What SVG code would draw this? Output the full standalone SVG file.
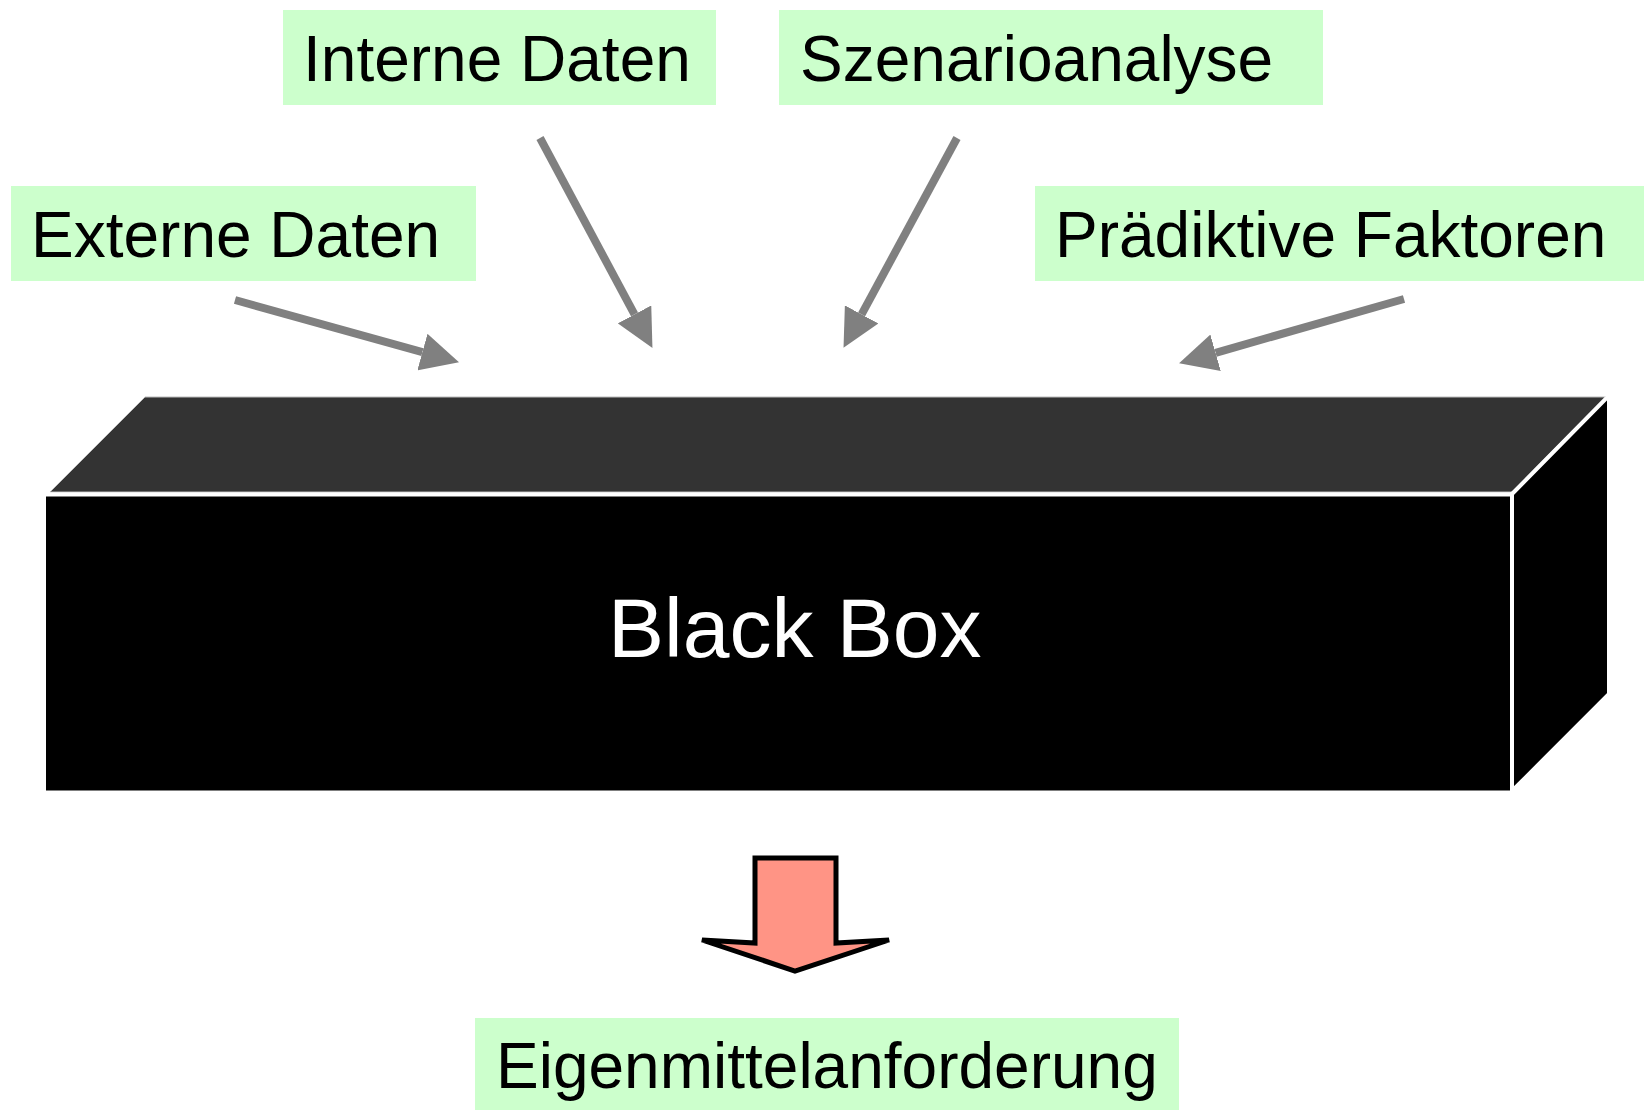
<svg xmlns="http://www.w3.org/2000/svg" width="1648" height="1110" viewBox="0 0 1648 1110">
  <style>
    .lbl { fill: #CCFFCC; stroke: none; }
    .txt { font-family: "Liberation Sans", Arial, sans-serif; font-size: 64px; fill: #000000; }
    .big { font-family: "Liberation Sans", Arial, sans-serif; font-size: 84px; fill: #FFFFFF; }
    .conn { stroke: #808080; stroke-width: 8; fill: none; marker-end: url(#head); }
  </style>
  <defs>
    <marker id="head" markerUnits="userSpaceOnUse" markerWidth="38" markerHeight="38" refX="0" refY="19" orient="auto" viewBox="0 0 38 38">
      <path d="M0,0 L38,19 L0,38 Z" fill="#808080"/>
    </marker>
  </defs>
  <rect width="1648" height="1110" fill="#FFFFFF"/>

  <g id="black-box">
    <polygon points="145,397 1606,397 1512,492 50,492" fill="#333333" stroke="#BBBBBB" stroke-width="1"/>
    <polygon points="1512,494 1606,398.5 1609,398.5 1609,694 1512,791" fill="#000000" stroke="#FFFFFF" stroke-width="4" stroke-linejoin="miter"/>
    <rect x="44" y="494.5" width="1468" height="298" fill="#000000" stroke="#FFFFFF" stroke-width="4"/>
    <text class="big" x="608" y="657">Black Box</text>
  </g>

  <g id="interne-daten">
    <rect class="lbl" x="283" y="10" width="433" height="95"/>
    <text class="txt" x="303" y="81">Interne Daten</text>
  </g>
  <g id="szenarioanalyse">
    <rect class="lbl" x="779" y="10" width="544" height="95"/>
    <text class="txt" x="800" y="81">Szenarioanalyse</text>
  </g>
  <g id="externe-daten">
    <rect class="lbl" x="11" y="186" width="465" height="95"/>
    <text class="txt" x="31" y="257">Externe Daten</text>
  </g>
  <g id="praediktive-faktoren">
    <rect class="lbl" x="1035" y="186" width="609" height="95"/>
    <text class="txt" x="1055" y="257">Prädiktive Faktoren</text>
  </g>
  <g id="eigenmittelanforderung">
    <rect class="lbl" x="475" y="1018" width="704" height="92"/>
    <text class="txt" x="496" y="1088">Eigenmittelanforderung</text>
  </g>

  <g id="connectors">
    <line class="conn" x1="235" y1="300" x2="422.4" y2="352.1"/>
    <line class="conn" x1="540" y1="138" x2="634.5" y2="314.4"/>
    <line class="conn" x1="957" y1="138" x2="861.6" y2="314.4"/>
    <line class="conn" x1="1404" y1="299" x2="1215.6" y2="352.8"/>
    <polygon id="output-arrow" points="755,858 836,858 836,943 889,940 795,971 702,940 755,943" fill="#FF9485" stroke="#000000" stroke-width="5" stroke-linejoin="miter"/>
  </g>
</svg>
